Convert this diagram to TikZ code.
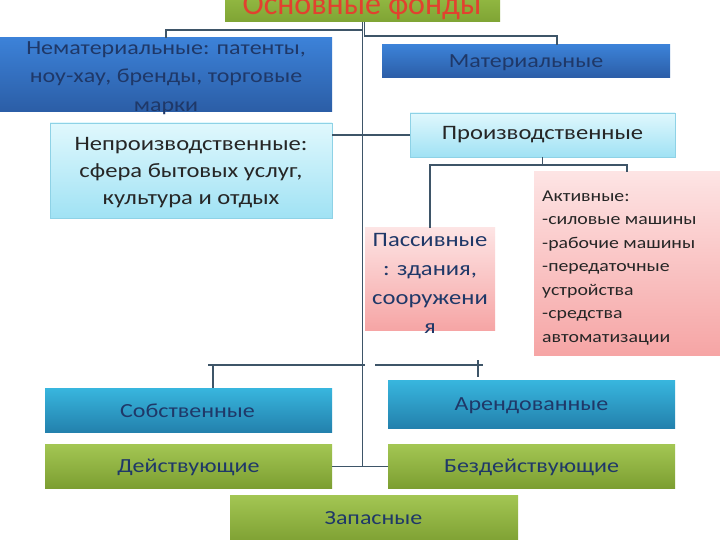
\documentclass[tikz,border=0pt]{standalone}
\usepackage{fontspec}
\setmainfont{Carlito}
\newfontfamily\widefont[FakeStretch=1.2]{Carlito}
\begin{document}
\begin{tikzpicture}[x=1pt,y=-1pt,
  box/.style={rectangle,inner sep=0pt,outer sep=0pt},
  greenbox/.style={box,top color=gr1,bottom color=gr2},
  bluebox/.style={box,top color=bl1,bottom color=bl2},
  cyanbox/.style={box,top color=cy1,bottom color=cy2,draw=cyb,line width=0.8pt},
  pinkbox/.style={box,top color=pk1,bottom color=pk2},
  tealbox/.style={box,top color=tl1,bottom color=tl2},
  txt/.style={inner sep=0pt,text=navy,align=center},
  conn/.style={draw=lin,line width=1.1pt}]
\definecolor{gr1}{HTML}{A3C653}
\definecolor{gr2}{HTML}{7C9E31}
\definecolor{gt1}{HTML}{96BC45}
\definecolor{gt2}{HTML}{7FA434}
\definecolor{bl1}{HTML}{3C82D8}
\definecolor{bl2}{HTML}{2B5DA6}
\definecolor{cy1}{HTML}{E0F8FD}
\definecolor{cy2}{HTML}{A0E2F4}
\definecolor{cyb}{HTML}{8ED2E6}
\definecolor{pk1}{HTML}{FDE4E4}
\definecolor{pk2}{HTML}{F6A5A5}
\definecolor{tl1}{HTML}{38B6DE}
\definecolor{tl2}{HTML}{2381AD}
\definecolor{navy}{HTML}{1F3868}
\definecolor{dark}{HTML}{262626}
\definecolor{redt}{HTML}{E2412F}
\definecolor{lin}{HTML}{3E5568}
\useasboundingbox (0,0) rectangle (720,540);
\fill[white] (0,0) rectangle (720,540);
% boxes
\node[box,top color=gt1,bottom color=gt2,minimum width=275pt,minimum height=30pt] (osn) at (362.5,7) {};
\node[bluebox,minimum width=332pt,minimum height=74pt] (nemat) at (166,75) {};
\node[bluebox,minimum width=288pt,minimum height=33pt] (mat) at (526,61.5) {};
\node[cyanbox,minimum width=282pt,minimum height=95pt] (neproizv) at (191,170.5) {};
\node[cyanbox,minimum width=265pt,minimum height=44pt] (proizv) at (542.5,135) {};
\node[pinkbox,minimum width=130pt,minimum height=102pt] (pass) at (430,279) {};
\node[pinkbox,minimum width=186pt,minimum height=183pt] (akt) at (627,263.5) {};
\node[tealbox,minimum width=287pt,minimum height=44pt] (sobst) at (188.5,410) {};
\node[tealbox,minimum width=287pt,minimum height=48pt] (arend) at (531.5,404) {};
\node[greenbox,minimum width=287pt,minimum height=44pt] (deyst) at (188.5,466.5) {};
\node[greenbox,minimum width=287pt,minimum height=44pt] (bezd) at (531.5,466.5) {};
\node[greenbox,minimum width=288pt,minimum height=50pt] (zap) at (374,520) {};
% texts
\node[txt,text=redt,anchor=base,font=\fontsize{32}{34}\selectfont] at (362,15) {Основные фонды};
\node[txt,font=\widefont\fontsize{20}{28.5}\selectfont] at (166,78) {Нематериальные: патенты,\\ноу-хау, бренды, торговые\\марки};
\node[txt,font=\widefont\fontsize{20}{22}\selectfont] at (526,63) {Материальные};
\node[txt,text=dark,font=\widefont\fontsize{20.5}{27}\selectfont] at (191,173) {Непроизводственные:\\сфера бытовых услуг,\\культура и отдых};
\node[txt,text=dark,font=\widefont\fontsize{20.5}{22}\selectfont] at (542.5,135) {Производственные};
\node[txt,font=\widefont\fontsize{20.5}{29}\selectfont] at (430,283) {Пассивные\\: здания,\\сооружени\\я};
\node[txt,text=dark,align=left,anchor=north west,font=\widefont\fontsize{16.5}{23.5}\selectfont] at (542,190.5) {Активные:\\-силовые машины\\-рабочие машины\\-передаточные\\устройства\\-средства\\автоматизации};
\node[txt,font=\widefont\fontsize{20}{22}\selectfont] at (187.5,411) {Собственные};
\node[txt,font=\widefont\fontsize{20}{22}\selectfont] at (531.5,406) {Арендованные};
\node[txt,font=\widefont\fontsize{20}{22}\selectfont] at (188.5,467) {Действующие};
\node[txt,font=\widefont\fontsize{20}{22}\selectfont] at (531.5,467) {Бездействующие};
\node[txt,font=\widefont\fontsize{20}{22}\selectfont] at (373.5,518) {Запасные};
% connectors
\draw[conn] (osn.south) -- (osn.south |- deyst.east);
\draw[conn] (osn.south |- 0,30) -| (nemat.north);
\coordinate (mr) at (557,36);
\draw[conn] ([xshift=2pt]osn.south) |- (mr) -- (mr |- mat.north);
\draw[conn] (proizv.west) -- (proizv.west -| neproizv.east);
\draw[conn] (proizv.south) -- ++(0,8) coordinate (pj);
\draw[conn] (pass.north) |- (pj) -| (akt.north);
\coordinate (ls) at (213,365);
\coordinate (rs) at (478,365);
\draw[conn] (208,365) -- (365,365);
\draw[conn] (ls) -- (ls |- sobst.north);
\draw[conn] (375,365) -- (483,365);
\draw[conn] (478,360) -- (rs) -- (478,377);
\draw[conn] (deyst.east) -- (bezd.west);
\end{tikzpicture}
\end{document}
